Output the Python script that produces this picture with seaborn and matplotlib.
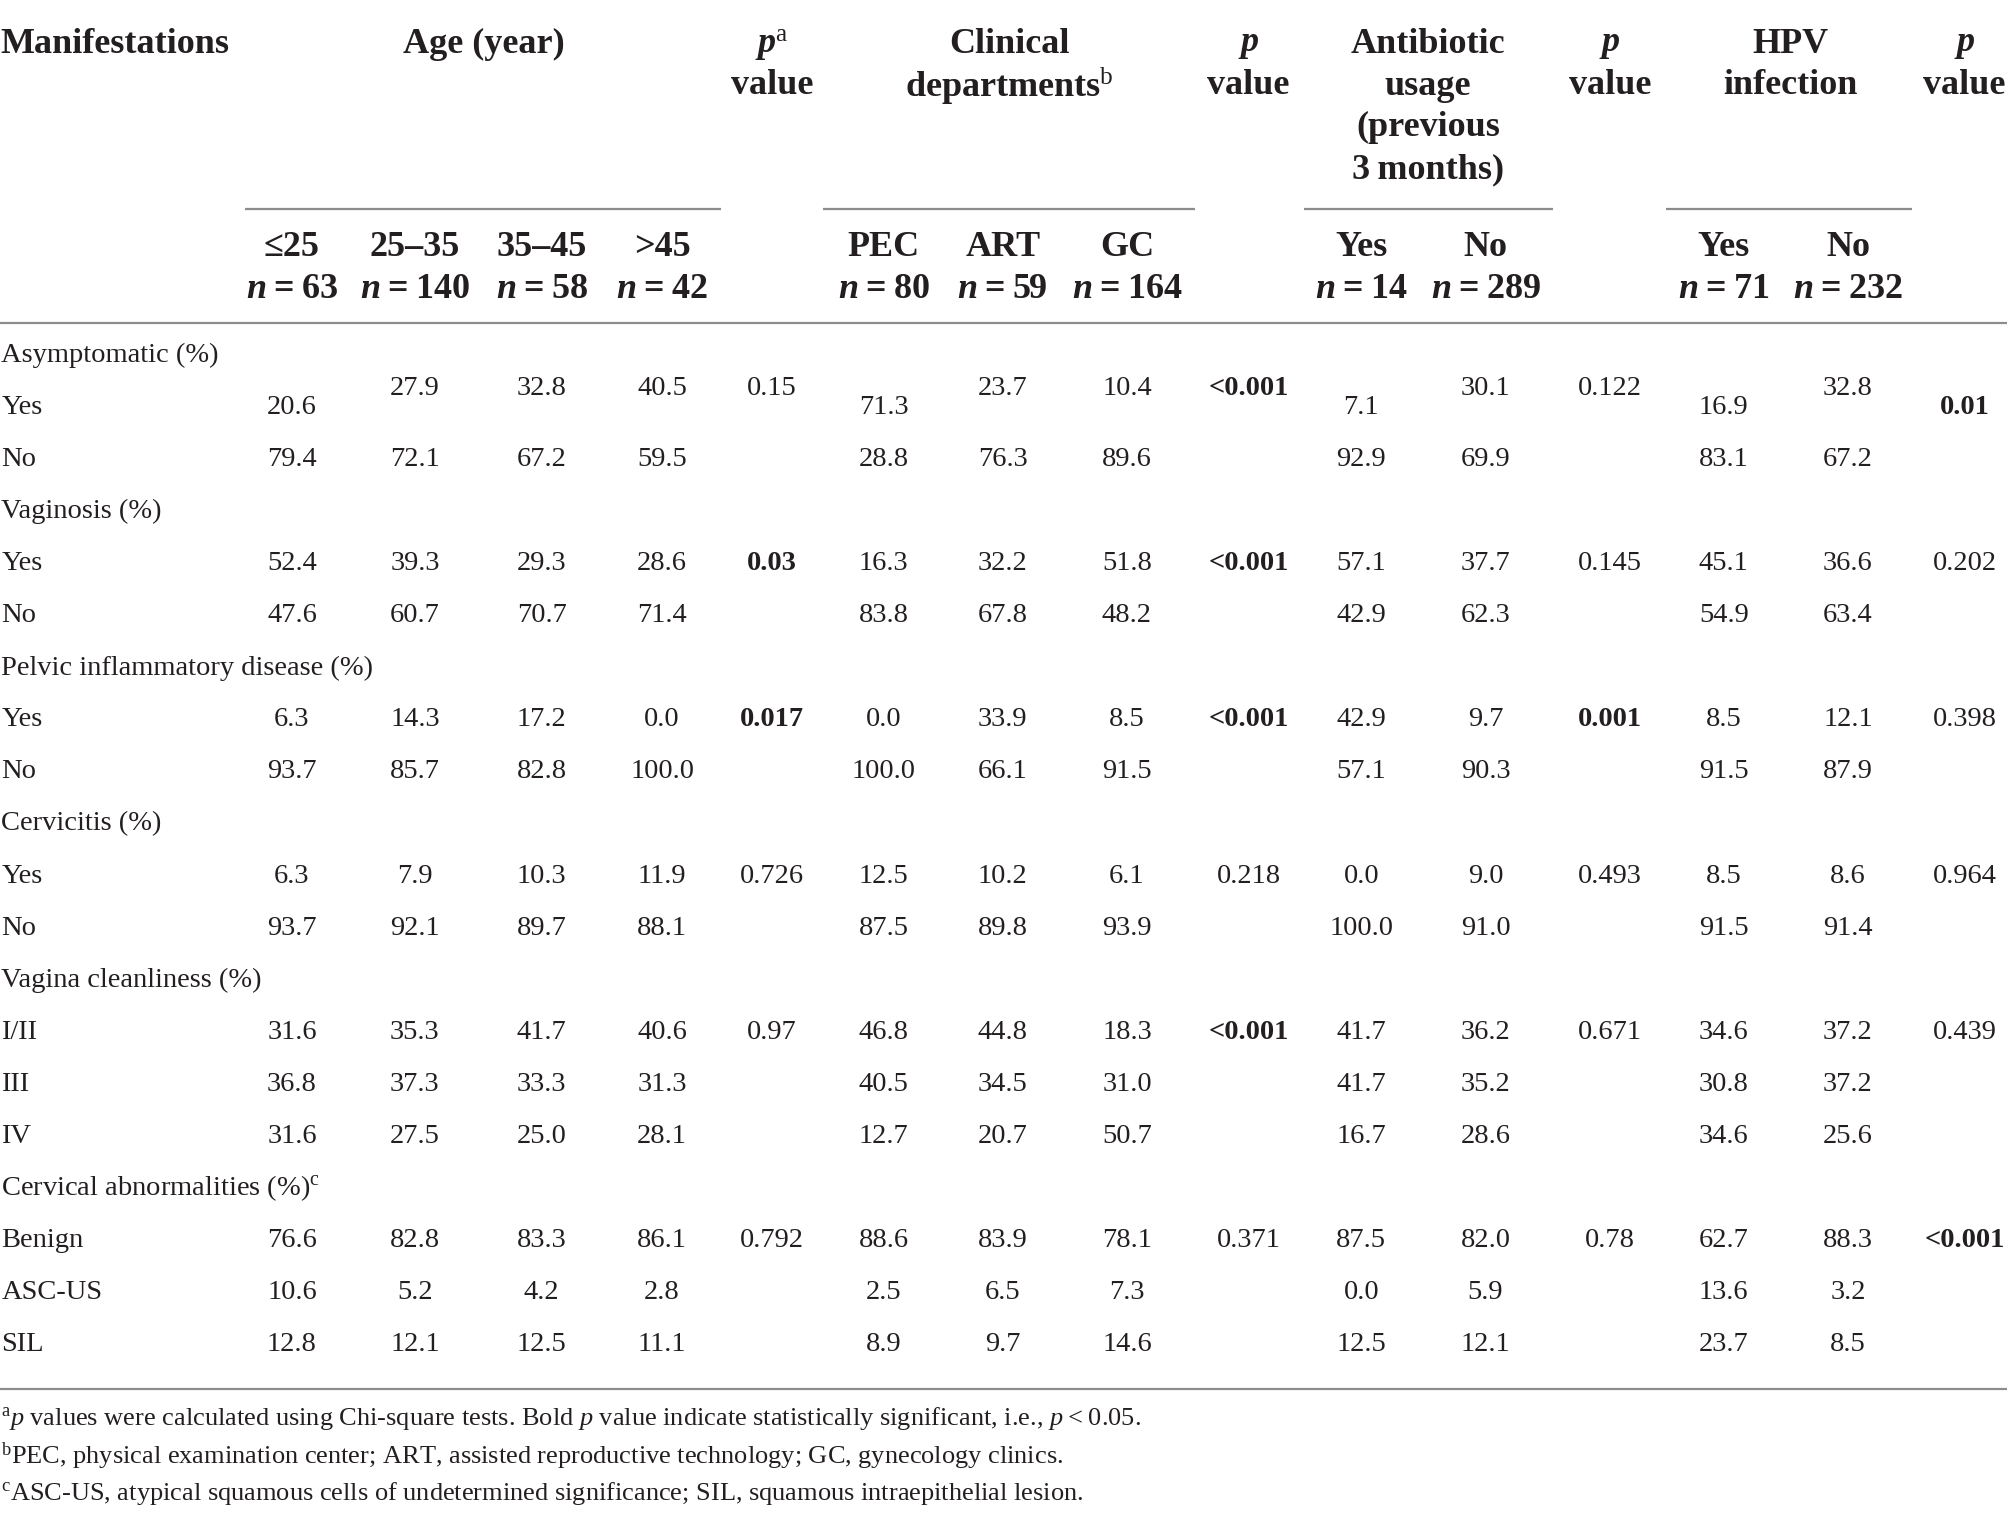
import numpy as np
import pandas as pd
import seaborn as sns
import matplotlib.pyplot as plt

# table content
groups = ["Asymptomatic (%)", "Vaginosis (%)", "Pelvic inflammatory disease (%)",
          "Cervicitis (%)", "Vagina cleanliness (%)", r"Cervical abnormalities (%)$^{\mathrm{c}}$"]
levels = [["Yes", "No"], ["Yes", "No"], ["Yes", "No"], ["Yes", "No"],
          ["I/II", "III", "IV"], ["Benign", "ASC-US", "SIL"]]

age = [[20.6, 27.9, 32.8, 40.5], [79.4, 72.1, 67.2, 59.5],
       [52.4, 39.3, 29.3, 28.6], [47.6, 60.7, 70.7, 71.4],
       [6.3, 14.3, 17.2, 0.0], [93.7, 85.7, 82.8, 100.0],
       [6.3, 7.9, 10.3, 11.9], [93.7, 92.1, 89.7, 88.1],
       [31.6, 35.3, 41.7, 40.6], [36.8, 37.3, 33.3, 31.3], [31.6, 27.5, 25.0, 28.1],
       [76.6, 82.8, 83.3, 86.1], [10.6, 5.2, 4.2, 2.8], [12.8, 12.1, 12.5, 11.1]]
dept = [[71.3, 23.7, 10.4], [28.8, 76.3, 89.6],
        [16.3, 32.2, 51.8], [83.8, 67.8, 48.2],
        [0.0, 33.9, 8.5], [100.0, 66.1, 91.5],
        [12.5, 10.2, 6.1], [87.5, 89.8, 93.9],
        [46.8, 44.8, 18.3], [40.5, 34.5, 31.0], [12.7, 20.7, 50.7],
        [88.6, 83.9, 78.1], [2.5, 6.5, 7.3], [8.9, 9.7, 14.6]]
abx = [[7.1, 30.1], [92.9, 69.9], [57.1, 37.7], [42.9, 62.3],
       [42.9, 9.7], [57.1, 90.3], [0.0, 9.0], [100.0, 91.0],
       [41.7, 36.2], [41.7, 35.2], [16.7, 28.6],
       [87.5, 82.0], [0.0, 5.9], [12.5, 12.1]]
hpv = [[16.9, 32.8], [83.1, 67.2], [45.1, 36.6], [54.9, 63.4],
       [8.5, 12.1], [91.5, 87.9], [8.5, 8.6], [91.5, 91.4],
       [34.6, 37.2], [30.8, 37.2], [34.6, 25.6],
       [62.7, 88.3], [13.6, 3.2], [23.7, 8.5]]

p_age = ["0.15", "0.03", "0.017", "0.726", "0.97", "0.792"]
p_age_bold = [False, True, True, False, False, False]
p_dept = ["<0.001", "<0.001", "<0.001", "0.218", "<0.001", "0.371"]
p_dept_bold = [True, True, True, False, True, False]
p_abx = ["0.122", "0.145", "0.001", "0.493", "0.671", "0.78"]
p_abx_bold = [False, False, True, False, False, False]
p_hpv = ["0.01", "0.202", "0.398", "0.964", "0.439", "<0.001"]
p_hpv_bold = [True, False, False, False, False, True]

sub_age = ["\u226425", "25\u201335", "35\u201345", ">45"]
n_age = [63, 140, 58, 42]
sub_dept = ["PEC", "ART", "GC"]
n_dept = [80, 59, 164]
sub_yn = ["Yes", "No"]
n_abx = [14, 289]
n_hpv = [71, 232]

footnotes = [
    r"$^{\mathrm{a}}$$p$ values were calculated using Chi-square tests. Bold $p$ value indicate statistically significant, i.e., $p$" + "\u2009<\u20090.05.",
    r"$^{\mathrm{b}}$PEC, physical examination center; ART, assisted reproductive technology; GC, gynecology clinics.",
    r"$^{\mathrm{c}}$ASC-US, atypical squamous cells of undetermined significance; SIL, squamous intraepithelial lesion.",
]

sns.set_theme(style="white")
plt.rcParams['font.family'] = ['Liberation Serif', 'DejaVu Serif']
plt.rcParams['mathtext.fontset'] = 'custom'
plt.rcParams['mathtext.rm'] = 'Liberation Serif'
plt.rcParams['mathtext.it'] = 'Liberation Serif:italic'
plt.rcParams['mathtext.bf'] = 'Liberation Serif:bold:italic'

fig = plt.figure(figsize=(20.08, 15.23), dpi=100)
ax = fig.add_axes([0, 0, 1, 1])
ax.set_xlim(0, 1568)
ax.set_ylim(1190, 0)
ax.axis('off')

HS = 26      # header size
BS = 20.5    # body size
FS = 19      # footnote size
ink = "#231f20"
rule = "#8c8c8c"

# column centres
xa = [228, 324, 423, 517]
xpa = 603
xd = [690, 783, 880]
xpd = 975
xb = [1063, 1160]
xpb = 1257
xh = [1346, 1443]
xph = 1534

# header
hdr = dict(fontsize=HS, fontweight='bold', color=ink, ha='center', va='center')
ax.text(0, 35, "Manifestations", **{**hdr, 'ha': 'left'})
ax.text(378, 35, "Age (year)", **hdr)
ax.text(xpa, 35, r"$\mathbf{p}^{\mathrm{a}}$", **hdr)
ax.text(xpa, 67, "value", **hdr)
ax.text(788, 35, "Clinical", **hdr)
ax.text(788, 67, r"departments$^{\mathrm{b}}$", **hdr)
for xp in (xpd, xpb, xph):
    ax.text(xp, 35, r"$\mathbf{p}$", **hdr)
    ax.text(xp, 67, "value", **hdr)
for i, line in enumerate(["Antibiotic", "usage", "(previous", "3\u2009months)"]):
    ax.text(1115, 35 + i * 32.5, line, **hdr)
ax.text(1398, 35, "HPV", **hdr)
ax.text(1398, 67, "infection", **hdr)

for x0, x1 in [(191, 563), (643, 933), (1018, 1213), (1301, 1493)]:
    ax.hlines(163, x0, x1, color=rule, lw=1.6)

subs = list(zip(xa, sub_age, n_age)) + list(zip(xd, sub_dept, n_dept)) + \
    list(zip(xb, sub_yn, n_abx)) + list(zip(xh, sub_yn, n_hpv))
for x, s, n in subs:
    ax.text(x, 193, s, **hdr)
    ax.text(x, 226, r"$\mathbf{n}$" + "\u2009=\u2009" + str(n), **hdr)

ax.hlines(252, 0, 1568, color=rule, lw=1.6)

# body
body = dict(fontsize=BS, color=ink, va='center')
y = 278
step = 40.65
k = 0
for g, (name, levs) in enumerate(zip(groups, levels)):
    ax.text(1, y, name, ha='left', **body)
    y += step
    for j, lev in enumerate(levs):
        ax.text(1, y, lev, ha='left', **body)
        raise_ = 15 if k == 0 else 0
        cells = []
        for c, (x, v) in enumerate(zip(xa, age[k])):
            cells.append((x, f"{v:.1f}", False, c > 0))
        for c, (x, v) in enumerate(zip(xd, dept[k])):
            cells.append((x, f"{v:.1f}", False, c > 0))
        for c, (x, v) in enumerate(zip(xb, abx[k])):
            cells.append((x, f"{v:.1f}", False, c > 0))
        for c, (x, v) in enumerate(zip(xh, hpv[k])):
            cells.append((x, f"{v:.1f}", False, c > 0))
        if j == 0:
            cells.append((xpa, p_age[g], p_age_bold[g], True))
            cells.append((xpd, p_dept[g], p_dept_bold[g], True))
            cells.append((xpb, p_abx[g], p_abx_bold[g], True))
            cells.append((xph, p_hpv[g], p_hpv_bold[g], False))
        for x, s, b, up in cells:
            yy = y - raise_ if up else y
            ax.text(x, yy, s, ha='center', fontweight='bold' if b else 'normal', **body)
        y += step
        k += 1

ax.hlines(1085, 0, 1568, color=rule, lw=1.6)

for i, note in enumerate(footnotes):
    ax.text(1, 1108 + i * 29.5, note, fontsize=FS, color=ink, ha='left', va='center')

fig.savefig("out.png", dpi=100, facecolor='white')
